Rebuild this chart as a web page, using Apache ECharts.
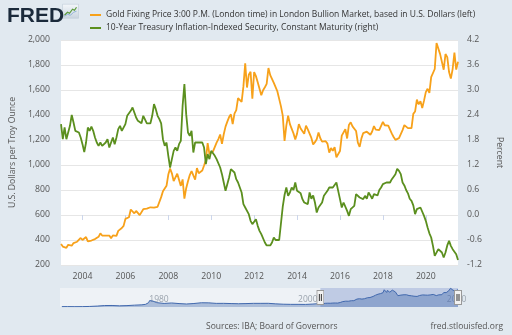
<!DOCTYPE html>
<html>
<head>
<meta charset="utf-8">
<script src="https://cdn.jsdelivr.net/npm/echarts@6/dist/echarts.min.js"></script>
<style>
  html, body { margin: 0; padding: 0; background: #e1e9f0; }
  #chart { width: 512px; height: 335px; }
</style>
</head>
<body>
<div id="chart"></div>
<script>
// Monthly observations (end of month), Jan 2003 through Jul 2021
const startYear = 2003;

// Gold fixing price, USD per troy ounce
const gold = [
  367.5, 347.5, 334.85, 336.75, 361.4, 346, 354.75, 375.6, 388, 386.25, 398.35, 416.25,
  399.75, 395.85, 423.7, 388.5, 393.25, 395.8, 391.4, 407.25, 415.65, 425.55, 453.4, 435.6,
  422.15, 435.45, 427.5, 435.7, 414.45, 437.1, 429, 433.25, 473.25, 470.75, 495.65, 513,
  568.75, 556, 582, 644, 653, 613.5, 632.5, 623.5, 599.25, 603.75, 646.7, 632,
  650.5, 664.2, 661.75, 677, 659.1, 650.5, 665.5, 672, 743, 789.5, 783.5, 833.75,
  923.25, 971.5, 933.5, 871, 885.75, 930.25, 918, 833, 884.5, 730.75, 814.5, 869.75,
  919.5, 952, 916.5, 883.25, 975.5, 934.5, 939, 955.5, 995.75, 1040, 1175.75, 1087.5,
  1078.5, 1109.5, 1115.5, 1179.25, 1207.5, 1244, 1169, 1246, 1307, 1346.75, 1383.5, 1405.5,
  1327, 1411, 1439, 1535.5, 1536.5, 1505.5, 1628.5, 1813.5, 1620, 1722, 1746, 1531,
  1744, 1711, 1662.5, 1651.25, 1558, 1598.5, 1622, 1648.5, 1776, 1719, 1726, 1657.5,
  1664.75, 1588.5, 1598.25, 1469, 1394.5, 1192, 1314.5, 1394.75, 1326.5, 1324, 1253, 1204.5,
  1251, 1326.5, 1291.75, 1288.5, 1250.5, 1315, 1285.25, 1285.75, 1216.5, 1164.25, 1182.75, 1206,
  1260.25, 1214, 1187, 1180.25, 1190.75, 1171, 1098.4, 1135, 1114, 1142.35, 1061.7, 1060,
  1111.8, 1234.9, 1237, 1285.65, 1212.1, 1320.75, 1342, 1309.25, 1322.5, 1272, 1178.1, 1145.9,
  1212.8, 1255.6, 1244.85, 1266.45, 1266.2, 1242.25, 1267.55, 1311.75, 1283.1, 1270.15, 1280.15, 1291,
  1345.15, 1317.85, 1323.85, 1315.05, 1305.35, 1250.45, 1223.7, 1201.5, 1187.25, 1214.95, 1222.5, 1279,
  1319.15, 1319.15, 1295.4, 1283.25, 1295.6, 1409, 1427.55, 1523, 1485.3, 1510.95, 1456.65, 1514.75,
  1582.9, 1609.85, 1577.7, 1702.75, 1715.9, 1768.1, 1975.85, 1967.75, 1886.9, 1879.9, 1762.6, 1887.6,
  1863.25, 1743.55, 1691.05, 1767.2, 1899.95, 1763.15, 1825.75
];

// 10-year TIPS yield, percent
const tips = [
  2.18, 1.82, 2.10, 1.82, 1.98, 2.14, 2.40, 2.22, 2.02, 2.02, 1.98, 1.86,
  1.70, 1.51, 1.74, 2.10, 2.02, 2.12, 2.02, 1.86, 1.74, 1.66, 1.74, 1.66,
  1.70, 1.74, 1.82, 1.62, 1.66, 1.86, 1.70, 1.86, 2.06, 2.14, 2.02, 2.02,
  2.18, 2.38, 2.42, 2.50, 2.58, 2.46, 2.34, 2.26, 2.30, 2.20, 2.38, 2.38,
  2.20, 2.20, 2.20, 2.38, 2.66, 2.54, 2.38, 2.30, 2.20, 1.82, 1.66, 1.74,
  1.42, 1.14, 1.34, 1.54, 1.62, 1.54, 1.70, 1.78, 2.62, 3.14, 2.42, 1.98,
  1.90, 2.02, 1.50, 1.74, 1.78, 1.74, 1.78, 1.74, 1.62, 1.22, 1.46, 1.34,
  1.54, 1.50, 1.42, 1.34, 1.30, 1.14, 0.98, 0.78, 0.58, 0.54, 0.90, 1.10,
  1.06, 1.02, 0.86, 0.78, 0.78, 0.54, 0.26, 0.18, 0.14, 0.02, -0.14, -0.22,
  -0.22, -0.10, -0.26, -0.38, -0.46, -0.50, -0.66, -0.73, -0.76, -0.73, -0.66, -0.54,
  -0.60, -0.58, -0.60, -0.56, 0.20, 0.48, 0.66, 0.46, 0.54, 0.66, 0.60, 0.78,
  0.58, 0.60, 0.52, 0.38, 0.30, 0.30, 0.26, 0.54, 0.39, 0.47, 0.30, 0.06,
  0.18, 0.14, 0.30, 0.46, 0.50, 0.58, 0.66, 0.66, 0.66, 0.70, 0.78, 0.58,
  0.38, 0.18, 0.30, 0.26, 0.10, -0.02, 0.14, 0.10, 0.22, 0.50, 0.50, 0.42,
  0.42, 0.38, 0.46, 0.39, 0.54, 0.47, 0.39, 0.50, 0.54, 0.47, 0.60, 0.66,
  0.74, 0.74, 0.78, 0.79, 0.78, 0.86, 0.87, 0.98, 1.11, 1.06, 0.98, 0.78,
  0.71, 0.60, 0.52, 0.39, 0.34, 0.23, 0.02, 0.14, 0.18, 0.18, 0.14, -0.02,
  -0.14, -0.30, -0.44, -0.54, -0.74, -0.98, -0.94, -0.82, -0.82, -0.90, -1.02, -0.90,
  -0.73, -0.62, -0.74, -0.82, -0.84, -0.94, -1.08
];

// Longer gold history shown in the navigator strip
const histYears = [1968.25, 1969, 1970, 1971, 1972, 1973, 1974, 1975, 1976, 1977, 1978, 1979,
  1979.5, 1979.9, 1980.05, 1980.5, 1981, 1982, 1983, 1984, 1985, 1986, 1987, 1988, 1989,
  1990, 1991, 1992, 1993, 1994, 1995, 1996, 1997, 1998, 1999, 2000, 2001, 2002];
const histGold = [38, 42, 35, 40, 58, 97, 154, 161, 125, 148, 193, 230,
  280, 450, 675, 620, 460, 375, 424, 361, 317, 368, 447, 437, 381,
  384, 362, 344, 360, 384, 384, 388, 331, 294, 279, 279, 271, 310];

const yearTicks = [2004, 2006, 2008, 2010, 2012, 2014, 2016, 2018, 2020];
const navTicks = [1980, 2000, 2020];
const goldName = 'Gold Fixing Price 3:00 P.M. (London time) in London Bullion Market, based in U.S. Dollars (left)';
const tipsName = '10-Year Treasury Inflation-Indexed Security, Constant Maturity (right)';

const FONT = 'Open Sans';
const monthPos = gold.map((_, i) => startYear + i / 12);
const goldPts = gold.map((v, i) => [monthPos[i], v]);
const tipsPts = tips.map((v, i) => [monthPos[i], v]);
const navPts = histYears.map((y, i) => [y, histGold[i]]).concat(goldPts);
const viewStart = monthPos[0];
const viewEnd = monthPos[monthPos.length - 1];

const handleSvg = '<svg xmlns="http://www.w3.org/2000/svg" width="8" height="15" viewBox="0 0 8 15">' +
  '<rect x="0.5" y="0.5" width="7" height="14" fill="#f2f2f2" stroke="#999999"/>' +
  '<line x1="3" y1="4" x2="3" y2="11" stroke="#333333"/>' +
  '<line x1="5" y1="4" x2="5" y2="11" stroke="#333333"/></svg>';
const handleIcon = 'image://data:image/svg+xml;utf8,' + encodeURIComponent(handleSvg);

const chart = echarts.init(document.getElementById('chart'), null, { renderer: 'canvas' });
chart.setOption({
  backgroundColor: '#e1e9f0',
  animation: false,
  textStyle: { fontFamily: FONT },
  title: [
    { text: 'FRED', left: 2, top: 1,
      textStyle: { fontFamily: 'Liberation Sans', fontWeight: 900, fontSize: 21, color: '#1b2a3b' } },
    { text: 'Sources: IBA; Board of Governors', left: 201, top: 317,
      textStyle: { fontFamily: FONT, fontWeight: 'normal', fontSize: 8.5, color: '#555' } },
    { text: 'fred.stlouisfed.org', right: 4, top: 317,
      textStyle: { fontFamily: FONT, fontWeight: 'normal', fontSize: 8.5, color: '#555' } }
  ],
  graphic: [
    { type: 'group', left: 62, top: 4, children: [
      { type: 'rect', shape: { x: 0, y: 0, width: 16, height: 14 },
        style: { fill: new echarts.graphic.LinearGradient(0, 0, 0, 1, [
          { offset: 0, color: '#f4f7fa' }, { offset: 1, color: '#c9d4df' }]), stroke: '#b9c6d3', lineWidth: 0.5 } },
      { type: 'polyline', shape: { points: [[2, 11], [5, 8], [7, 9], [10, 5], [12, 6], [14, 3]] },
        style: { stroke: '#5a9a3a', lineWidth: 1.2, fill: null } },
      { type: 'polyline', shape: { points: [[2, 12], [5, 10], [8, 11], [11, 8], [14, 7]] },
        style: { stroke: '#8fb3d6', lineWidth: 1, fill: null } }
    ] }
  ],
  legend: {
    orient: 'vertical', left: 85, top: 5, itemWidth: 11, itemHeight: 2, itemGap: 3,
    icon: 'rect', selectedMode: false,
    textStyle: { fontFamily: FONT, fontSize: 8.5, color: '#333', lineHeight: 10 },
    data: [goldName, tipsName]
  },
  grid: [
    { left: 59, top: 40, width: 400, height: 225, show: true, backgroundColor: '#ffffff', borderWidth: 0 },
    { left: 60, top: 288, width: 398, height: 19, show: true, backgroundColor: '#eef2f6', borderColor: '#c8d0da', borderWidth: 0 }
  ],
  xAxis: [
    { type: 'value', gridIndex: 0, min: viewStart, max: viewEnd,
      axisLine: { show: false }, splitLine: { show: false },
      axisTick: { show: true, customValues: yearTicks, length: 5, lineStyle: { color: '#ccd6eb' } },
      axisLabel: { customValues: yearTicks, margin: 7, fontSize: 8.7, color: '#555', formatter: v => String(v) } },
    { type: 'value', gridIndex: 1, min: 1968, max: viewEnd,
      axisLine: { show: false }, splitLine: { show: false }, axisTick: { show: false },
      axisLabel: { inside: true, customValues: navTicks, margin: 3, fontSize: 8.5, color: '#9aa3ad', align: 'left',
        formatter: v => String(v) } }
  ],
  yAxis: [
    { type: 'value', gridIndex: 0, position: 'left', min: 200, max: 2000, interval: 200,
      name: 'U.S. Dollars per Troy Ounce', nameLocation: 'middle', nameGap: 41,
      nameTextStyle: { fontFamily: FONT, fontSize: 8.7, color: '#555' },
      axisLine: { show: false }, axisTick: { show: false },
      splitLine: { lineStyle: { color: '#e6e6e6', width: 1 } },
      axisLabel: { margin: 11, fontSize: 8.7, color: '#555',
        formatter: v => v.toLocaleString('en-US') } },
    { type: 'value', gridIndex: 0, position: 'right', min: -1.2, max: 4.2, interval: 0.6,
      name: 'Percent', nameLocation: 'middle', nameGap: 37, nameRotate: -90,
      nameTextStyle: { fontFamily: FONT, fontSize: 8.7, color: '#555' },
      axisLine: { show: false }, axisTick: { show: false }, splitLine: { show: false },
      axisLabel: { margin: 9, fontSize: 8.7, color: '#555', formatter: v => v.toFixed(1) } },
    { type: 'value', gridIndex: 1, min: 0, max: 2000, show: false }
  ],
  series: [
    { name: goldName, type: 'line', xAxisIndex: 0, yAxisIndex: 0, data: goldPts,
      showSymbol: false, silent: true, color: '#f7a11a', lineStyle: { width: 1.8, color: '#f7a11a' } },
    { name: tipsName, type: 'line', xAxisIndex: 0, yAxisIndex: 1, data: tipsPts,
      showSymbol: false, silent: true, color: '#5b8f1e', lineStyle: { width: 1.8, color: '#5b8f1e' } },
    { name: 'navigator', type: 'line', xAxisIndex: 1, yAxisIndex: 2, data: navPts,
      showSymbol: false, silent: true,
      lineStyle: { width: 1, color: '#4068ad' }, areaStyle: { color: 'rgba(64,104,173,0.55)' },
      markArea: { silent: true, itemStyle: { color: 'rgba(102,133,194,0.35)' },
        data: [[{ xAxis: viewStart }, { xAxis: viewEnd }]] },
      markPoint: { silent: true, symbol: handleIcon, symbolSize: [8, 15], label: { show: false },
        data: [{ coord: [viewStart, 1000] }, { coord: [viewEnd, 1000] }] } }
  ]
});
</script>
</body>
</html>
